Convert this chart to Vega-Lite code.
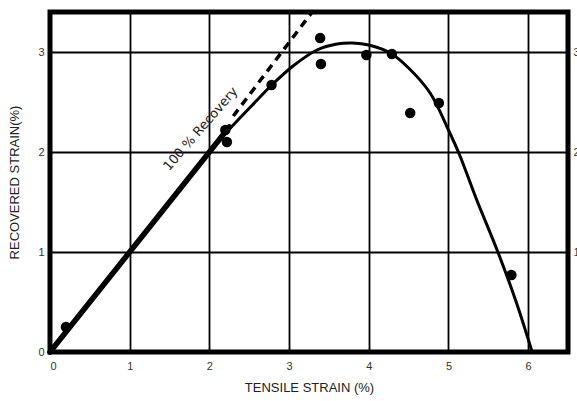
{
  "$schema": "https://vega.github.io/schema/vega-lite/v6.json",
  "width": 518,
  "height": 340,
  "autosize": "none",
  "padding": {"left": 50, "top": 12, "right": 9, "bottom": 49},
  "background": "white",
  "config": {
    "view": {"stroke": "black", "strokeWidth": 5},
    "font": "Liberation Sans",
    "axis": {
      "domain": false,
      "ticks": false,
      "grid": true,
      "gridColor": "black",
      "gridWidth": 1.8,
      "gridOpacity": 1,
      "labelFont": "Liberation Sans",
      "labelFontSize": 11,
      "labelColor": "#333333",
      "titleFont": "Liberation Sans",
      "titleFontSize": 13,
      "titleFontWeight": "normal",
      "titleColor": "#222222"
    }
  },
  "datasets": {
    "curve": [
      {"x": 0, "y": 0}, {"x": 1, "y": 1}, {"x": 2, "y": 2}, {"x": 2.3, "y": 2.27},
      {"x": 2.6, "y": 2.52}, {"x": 2.77, "y": 2.66}, {"x": 3.05, "y": 2.86},
      {"x": 3.35, "y": 3.02}, {"x": 3.6, "y": 3.08}, {"x": 3.8, "y": 3.09},
      {"x": 4.0, "y": 3.07}, {"x": 4.27, "y": 2.99}, {"x": 4.5, "y": 2.84},
      {"x": 4.77, "y": 2.59}, {"x": 5.0, "y": 2.22}, {"x": 5.14, "y": 1.97},
      {"x": 5.35, "y": 1.53}, {"x": 5.62, "y": 1.0}, {"x": 5.85, "y": 0.5},
      {"x": 6.05, "y": 0}
    ],
    "thick": [{"x": 0, "y": 0}, {"x": 2.25, "y": 2.25}],
    "dash": [{"x": 2.3, "y": 2.36}, {"x": 3.29, "y": 3.4}],
    "points": [
      {"x": 0.2, "y": 0.25}, {"x": 2.2, "y": 2.22}, {"x": 2.22, "y": 2.1},
      {"x": 2.78, "y": 2.67}, {"x": 3.39, "y": 3.14}, {"x": 3.4, "y": 2.88},
      {"x": 3.97, "y": 2.97}, {"x": 4.29, "y": 2.98}, {"x": 4.52, "y": 2.39},
      {"x": 4.88, "y": 2.49}, {"x": 5.79, "y": 0.77}
    ],
    "label": [{"x": 1.89, "y": 2.23, "t": "100 %  Recovery"}]
  },
  "layer": [
    {
      "data": {"name": "curve"},
      "mark": {"type": "line", "interpolate": "catmull-rom", "color": "black", "strokeWidth": 3},
      "encoding": {
        "x": {"field": "x", "type": "quantitative", "scale": {"domain": [0, 6.5], "nice": false},
          "axis": {"values": [0, 1, 2, 3, 4, 5, 6], "format": "d", "title": "TENSILE STRAIN (%)", "labelPadding": 8, "titlePadding": 10}},
        "y": {"field": "y", "type": "quantitative", "scale": {"domain": [0, 3.4], "nice": false},
          "axis": {"values": [0, 1, 2, 3], "format": "d", "title": "RECOVERED STRAIN(%)", "labelPadding": 6, "titlePadding": 16, "titleColor": "#222222"}}
      }
    },
    {
      "data": {"name": "thick"},
      "mark": {"type": "line", "color": "black", "strokeWidth": 5.5, "strokeCap": "round"},
      "encoding": {
        "x": {"field": "x", "type": "quantitative"},
        "y": {"field": "y", "type": "quantitative", "axis": null}
      }
    },
    {
      "data": {"name": "dash"},
      "mark": {"type": "line", "color": "black", "strokeWidth": 3.5, "strokeDash": [8, 6]},
      "encoding": {
        "x": {"field": "x", "type": "quantitative"},
        "y": {"field": "y", "type": "quantitative", "axis": null}
      }
    },
    {
      "data": {"name": "points"},
      "mark": {"type": "circle", "color": "black", "opacity": 1, "size": 110},
      "encoding": {
        "x": {"field": "x", "type": "quantitative"},
        "y": {"field": "y", "type": "quantitative", "axis": {"orient": "right", "values": [1, 2, 3], "format": "d", "title": null, "grid": false, "labelPadding": 5}}
      }
    },
    {
      "data": {"name": "label"},
      "mark": {"type": "text", "angle": -49, "fontSize": 13, "color": "#222222", "font": "DejaVu Sans"},
      "encoding": {
        "x": {"field": "x", "type": "quantitative"},
        "y": {"field": "y", "type": "quantitative", "axis": null},
        "text": {"field": "t"}
      }
    }
  ],
  "resolve": {"axis": {"y": "independent"}}
}
